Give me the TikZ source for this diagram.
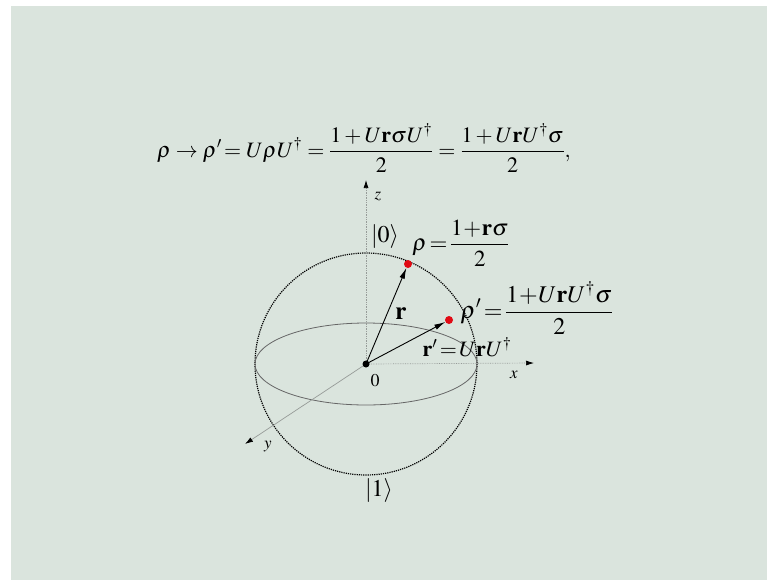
\documentclass[tikz,border=0pt]{standalone}
\usepackage{mathptmx}
\usepackage{fontspec}
\setmainfont{Liberation Serif}
\usetikzlibrary{arrows.meta}
\definecolor{bg}{RGB}{218,228,221}
\definecolor{dotred}{RGB}{225,10,20}
\definecolor{axisgray}{RGB}{150,155,152}
\tikzset{
  axisline/.style={axisgray, line width=0.7pt, densely dotted, -{Latex[length=8pt,width=5pt,black]}},
  vec/.style={black, line width=0.9pt, -{Latex[length=11pt,width=5.5pt]}},
  reddot/.style={circle, fill=dotred, inner sep=0pt, minimum size=8pt},
  blackdot/.style={circle, fill=black, inner sep=0pt, minimum size=7pt},
  smalllabel/.style={inner sep=0pt, font=\fontsize{17}{19}\selectfont},
  ketlabel/.style={inner sep=0pt, font=\fontsize{24}{27}\selectfont},
}
\begin{document}
\begin{tikzpicture}[x=1pt,y=-1pt]
\useasboundingbox (0,0) rectangle (767,581);
\fill[white] (0,0) rectangle (767,581);
\fill[bg] (11,6) rectangle (767,580);

% top equation
\node[inner sep=0pt, font=\fontsize{22}{25}\selectfont] (eq) at (364,148)
  {$\displaystyle \rho\rightarrow\rho' \!= U\rho U^{\dagger} = \frac{1+U\mathbf{r}\sigma U^{\dagger}}{2} = \frac{1+U\mathbf{r}U^{\dagger}\sigma}{2},$};

% sphere
\coordinate (O) at (366,364);
\draw[black, line width=1.2pt, densely dotted] (O) circle[radius=111];
\draw[black!60, line width=0.8pt] (O) ellipse[x radius=111, y radius=41];

% axes
\coordinate (zt) at (366,180);
\coordinate (xt) at (534,363);
\coordinate (yt) at (245,444);
\draw[axisline] (O) -- (zt);
\draw[axisline] (O) -- (xt);
\draw[axisline, solid] (O) -- (yt);

% axis labels
\node[smalllabel] (zl) at (378,196) {$z$};
\node[smalllabel] (xl) at (514,375) {$x$};
\node[smalllabel] (yl) at (268,447) {$y$};
\node[inner sep=0pt, font=\fontsize{18}{20}\selectfont] (zero) at (375,381) {$0$};
\node[ketlabel] (ket0) at (385,237) {$|0\rangle$};
\node[ketlabel] (ket1) at (379,491) {$|1\rangle$};

% points and vectors
\node[blackdot] (o) at (O) {};
\node[reddot] (p1) at (408,264) {};
\node[reddot] (p2) at (449,320) {};
\draw[vec] (o.center) -- (p1);
\draw[vec] (o.center) -- (p2);

% labels
\node[inner sep=0pt, font=\fontsize{25}{28}\selectfont] (rl) at (401,314) {$\mathbf{r}$};
\node[inner sep=0pt, font=\fontsize{22}{25}\selectfont] (rpl) at (467,347) {$\mathbf{r}'\!=\!U\mathbf{r}U^{\dagger}$};
\node[inner sep=0pt, font=\fontsize{23}{26}\selectfont] (rho) at (461,243) {$\displaystyle\rho\!=\!\frac{1\!+\!\mathbf{r}\sigma}{2}$};
\node[inner sep=0pt, font=\fontsize{24}{27}\selectfont] (rhop) at (537,308) {$\displaystyle\rho'\!=\!\frac{1\!+\!U\mathbf{r}U^{\dagger}\sigma}{2}$};
\end{tikzpicture}
\end{document}
